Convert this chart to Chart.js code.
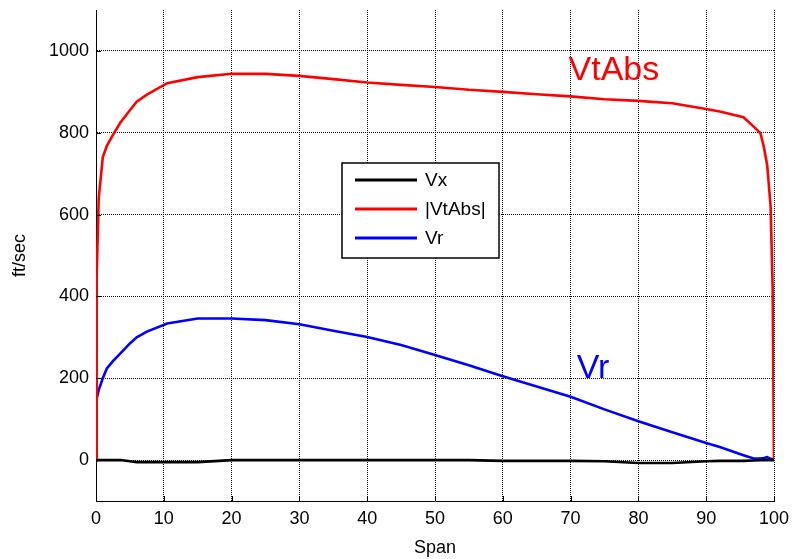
<!DOCTYPE html>
<html>
<head>
<meta charset="utf-8">
<script src="https://cdn.jsdelivr.net/npm/chart.js@4"></script>
<style>
  html, body { margin: 0; padding: 0; background: #fff; }
  #wrap { width: 792px; height: 559px; }
</style>
</head>
<body>
<div id="wrap"><canvas id="chart"></canvas></div>
<script>
// span stations (% of span)
const span = [0, 0.1, 0.4, 1, 1.6, 2.5, 3.6, 5, 6, 7.5, 10.5, 15, 20, 25, 30, 35, 40, 45, 50, 55,
              60, 65, 70, 75, 80, 85, 90, 92, 95.5, 97, 98, 98.5, 99, 99.5, 99.8, 100];
// velocities, ft/sec
const vx =    [0, 0, 0, 0, 0, 0, 0, -3, -5, -5, -5, -5, 0, 0, 0, 0, 0, 0, 0, 0,
               -2, -2, -2, -3, -7, -7, -3, -2, -2, -1, 0, 0, 0, 0, 0, 0];
const vtAbs = [0, 450, 640, 740, 768, 795, 825, 855, 876, 893, 921, 936, 944, 944, 939, 931, 923, 917, 912, 905,
               900, 894, 889, 882, 878, 872, 858, 852, 838, 815, 799, 766, 720, 620, 420, 0];
const vr =    [0, 150, 171, 200, 224, 242, 261, 285, 300, 314, 334, 346, 346, 342, 332, 316, 301, 281, 257, 232,
               205, 180, 155, 124, 95, 68, 42, 32, 12, 4, 4, 5, 7, 3, 2, 0];

const seriesNames = ['Vx', '|VtAbs|', 'Vr'];
const seriesColors = ['#000000', '#ff0000', '#0000ff'];
const xTicks = [0, 10, 20, 30, 40, 50, 60, 70, 80, 90, 100];
const yTicks = [0, 200, 400, 600, 800, 1000];

const FONT = 'Liberation Sans, Arial, Helvetica, sans-serif';

function toPoints(ys) {
  return span.map((s, i) => ({ x: s, y: ys[i] }));
}

// legend box inside the plot + curve labels + inward tick marks
const decorations = {
  id: 'decorations',
  afterDatasetsDraw(chart) {
    const ctx = chart.ctx;
    const xs = chart.scales.x, ys = chart.scales.y;
    const area = chart.chartArea;

    // inward ticks
    ctx.save();
    ctx.strokeStyle = '#000';
    ctx.lineWidth = 1;
    ctx.beginPath();
    xTicks.forEach(v => {
      const px = Math.round(xs.getPixelForValue(v)) + 0.5;
      ctx.moveTo(px, area.bottom);
      ctx.lineTo(px, area.bottom - 5);
    });
    yTicks.forEach(v => {
      const py = Math.round(ys.getPixelForValue(v)) + 0.5;
      ctx.moveTo(area.left, py);
      ctx.lineTo(area.left + 5, py);
    });
    ctx.stroke();

    // curve labels
    ctx.font = '34px ' + FONT;
    ctx.textBaseline = 'alphabetic';
    ctx.textAlign = 'left';
    ctx.fillStyle = '#ff0000';
    ctx.fillText('VtAbs', xs.getPixelForValue(69.7), ys.getPixelForValue(929));
    ctx.fillStyle = '#0000ff';
    ctx.fillText('Vr', xs.getPixelForValue(70.9), ys.getPixelForValue(200));

    // legend
    const left = 342, top = 163, w = 157, h = 95;
    ctx.fillStyle = '#fff';
    ctx.fillRect(left, top, w, h);
    ctx.strokeStyle = '#000';
    ctx.lineWidth = 1.5;
    ctx.strokeRect(left, top, w, h);
    const rows = [180, 209, 238];
    ctx.font = '19px ' + FONT;
    ctx.textBaseline = 'middle';
    seriesNames.forEach((name, i) => {
      ctx.strokeStyle = seriesColors[i];
      ctx.lineWidth = 3;
      ctx.beginPath();
      ctx.moveTo(355, rows[i]);
      ctx.lineTo(417, rows[i]);
      ctx.stroke();
      ctx.fillStyle = '#000';
      ctx.fillText(name, 425, rows[i] + 1);
    });
    ctx.restore();
  }
};

new Chart(document.getElementById('chart'), {
  type: 'line',
  data: {
    datasets: [
      { label: seriesNames[0], data: toPoints(vx), borderColor: seriesColors[0] },
      { label: seriesNames[1], data: toPoints(vtAbs), borderColor: seriesColors[1] },
      { label: seriesNames[2], data: toPoints(vr), borderColor: seriesColors[2] }
    ]
  },
  options: {
    responsive: true,
    maintainAspectRatio: false,
    animation: false,
    layout: { padding: { top: 10, right: 18, left: 0, bottom: 0 } },
    elements: {
      line: { borderWidth: 2.6, tension: 0, fill: false },
      point: { radius: 0 }
    },
    plugins: {
      legend: { display: false },
      tooltip: { enabled: false }
    },
    scales: {
      x: {
        type: 'linear',
        min: 0,
        max: 100,
        afterBuildTicks: s => { s.ticks = xTicks.map(v => ({ value: v })); },
        afterFit: s => { s.height = 58; s.paddingLeft = 0; s.paddingRight = 0; },
        grid: { color: '#000', lineWidth: 1, drawTicks: false },
        border: { color: '#000', width: 1, dash: [1, 1] },
        ticks: { color: '#000', padding: 7, maxRotation: 0, font: { family: FONT, size: 18 },
                 callback: v => String(v) },
        title: { display: true, text: 'Span', color: '#000', padding: { top: 2, bottom: 0 },
                 font: { family: FONT, size: 18 } }
      },
      y: {
        min: -100,
        max: 1100,
        afterBuildTicks: s => { s.ticks = yTicks.map(v => ({ value: v })); },
        afterFit: s => { s.width = 96; s.paddingTop = 0; s.paddingBottom = 0; },
        grid: { color: '#000', lineWidth: 1, drawTicks: false },
        border: { color: '#000', width: 1, dash: [1, 1] },
        ticks: { color: '#000', padding: 7, font: { family: FONT, size: 18 },
                 callback: v => String(v) },
        title: { display: true, text: 'ft/sec', color: '#000', padding: { top: 9, bottom: 4 },
                 font: { family: FONT, size: 18 } }
      }
    }
  },
  plugins: [decorations]
});
</script>
</body>
</html>
